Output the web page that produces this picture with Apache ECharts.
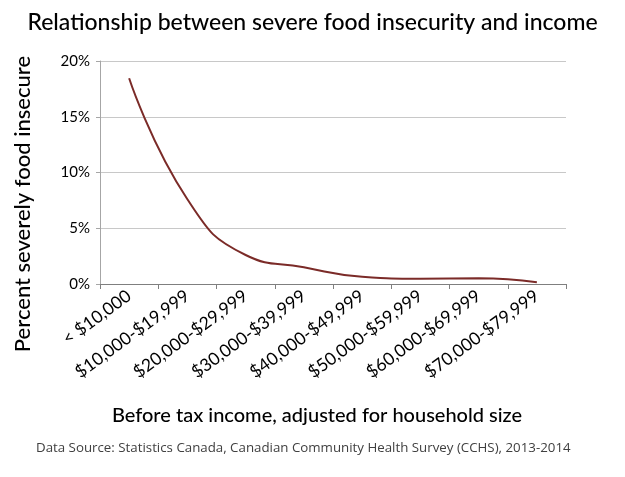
<!DOCTYPE html>
<html><head><meta charset="utf-8">
<script src="https://cdn.jsdelivr.net/npm/echarts@6/dist/echarts.min.js"></script>
<style>html,body{margin:0;padding:0;background:#fff}#c{width:625px;height:477px}</style>
</head><body><div id="c"></div>
<script>
const categories = ['< $10,000','$10,000-$19,999','$20,000-$29,999','$30,000-$39,999','$40,000-$49,999','$50,000-$59,999','$60,000-$69,999','$70,000-$79,999'];
const severePct = [18.45, 7.6, 2.6, 1.5, 0.66, 0.48, 0.51, 0.15];
const yTicks = [0, 5, 10, 15, 20];

const chart = echarts.init(document.getElementById('c'));
chart.setOption({
  animation: false,
  title: [
    {text: 'Relationship between severe food insecurity and income', left: 'center', top: 6,
     textStyle: {fontFamily: 'Lato', fontSize: 23, fontWeight: 500, color: '#000'}},
    {text: 'Before tax income, adjusted for household size', left: 312, textAlign: 'center', top: 401,
     textStyle: {fontFamily: 'Lato', fontSize: 20, fontWeight: 500, color: '#000'}},
    {text: 'Data Source: Statistics Canada, Canadian Community Health Survey (CCHS), 2013-2014', left: 31, top: 437,
     textStyle: {fontFamily: 'Open Sans', fontSize: 13.3, fontWeight: 'normal', color: '#404040'}}
  ],
  graphic: [{
    type: 'text', x: 12, y: 204, rotation: Math.PI / 2,
    style: {text: 'Percent severely food insecure', font: '500 22px Lato', fill: '#000',
            align: 'center', verticalAlign: 'top'}
  }],
  grid: {left: 100, right: 59, top: 61, bottom: 193},
  xAxis: {
    type: 'category', data: categories, boundaryGap: true,
    axisLine: {lineStyle: {color: '#7f7f7f', width: 1}},
    axisTick: {show: true, length: 5, lineStyle: {color: '#7f7f7f'}},
    axisLabel: {rotate: 36, interval: 0, margin: 10, padding: [18, 0, 0, 0], fontFamily: 'Lato', fontSize: 17.5, color: '#000'}
  },
  yAxis: {
    type: 'value', min: 0, max: 20, interval: 5,
    axisLine: {show: true, lineStyle: {color: '#a6a6a6'}},
    axisTick: {show: true, length: 4, lineStyle: {color: '#a6a6a6'}},
    splitLine: {lineStyle: {color: '#c8c8c8', width: 1}},
    axisLabel: {formatter: v => yTicks.includes(v) ? v + '%' : '', margin: 10, fontFamily: 'Lato', fontSize: 15, color: '#000'}
  },
  series: [{
    type: 'line', data: severePct, smooth: true, symbol: 'none',
    lineStyle: {color: '#7b2b28', width: 2}
  }]
});
</script></body></html>
